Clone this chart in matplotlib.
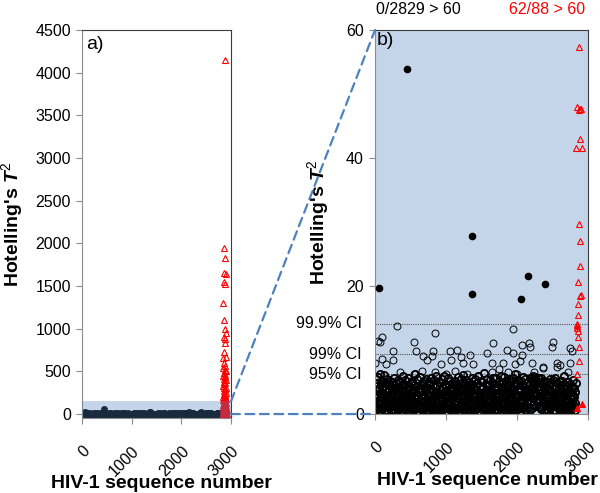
import numpy as np
import matplotlib.pyplot as plt
from matplotlib.patches import Rectangle, ConnectionPatch
from matplotlib.transforms import blended_transform_factory

plt.rcParams['font.family'] = 'Liberation Sans'
plt.rcParams['font.size'] = 11.5
plt.rcParams['mathtext.fontset'] = 'custom'
plt.rcParams['mathtext.rm'] = 'Liberation Sans'
plt.rcParams['mathtext.it'] = 'Liberation Sans:italic'
plt.rcParams['mathtext.bf'] = 'Liberation Sans:bold'
plt.rcParams['mathtext.bfit'] = 'Liberation Sans:italic:bold'

# --- data ---
# bulk of the 2829 reference sequences (every 5th sequence, T^2 values)
BAND = """
3.1 1.2 5.4 0.6 2.8 4.9 1.7 3.6 0.9 5.8 2.2 4.1 1.4 6.3 3.3 0.5 2.6 4.7 1.9 3.9
5.1 0.8 2.4 4.4 1.1 3.0 6.1 2.0 0.4 3.7 4.8 1.6 2.9 5.5 0.7 3.4 1.3 4.6 2.5 0.9
3.8 5.2 1.5 2.7 4.2 0.6 3.2 1.9 5.0 2.3 0.8 4.5 3.6 1.2 5.6 2.1 3.9 0.5 4.9 1.8
2.6 4.0 1.0 3.5 5.3 0.7 2.9 4.3 1.4 3.1 0.9 5.0 2.2 3.8 1.6 4.7 0.5 2.8 5.9 1.3
3.4 0.8 4.6 2.0 5.3 1.1 3.7 2.4 0.6 4.1 1.9 3.0 5.7 1.5 2.7 0.4 4.4 3.2 1.0 2.5
4.8 1.7 3.3 0.9 2.1 5.1 1.4 3.9 0.7 4.5 2.6 1.2 3.6 6.2 0.8 2.3 4.2 1.8 3.0 5.4
1.1 2.8 0.5 4.0 3.5 1.6 5.8 2.2 0.9 3.8 4.6 1.3 2.5 0.6 4.9 3.1 1.9 5.2 2.0 0.8
4.3 2.7 1.0 3.6 5.5 0.5 2.4 4.1 1.7 3.2 0.7 5.0 2.9 1.4 3.9 4.7 0.9 2.1 5.6 1.2
2.3 3.8 0.6 4.6 1.5 3.0 5.3 1.1 2.6 4.2 0.8 3.5 1.9 5.9 2.8 0.4 4.4 1.3 3.3 2.0
5.0 1.4 3.1 0.7 4.8 2.5 1.0 3.7 5.4 2.2 0.6 4.0 1.8 2.9 6.0 1.2 3.6 0.9 4.5 2.7
1.6 4.3 2.1 0.5 3.4 5.7 1.3 2.8 4.6 0.8 3.9 1.7 5.1 2.4 0.9 3.2 4.9 1.1 2.6 3.8
0.7 2.9 4.7 1.5 3.5 0.6 5.2 2.0 3.1 1.0 4.4 2.7 0.8 5.8 1.9 3.6 0.5 4.1 2.3 1.4
3.7 1.2 5.5 2.6 0.9 4.0 1.8 3.3 6.1 0.7 2.5 4.8 1.1 3.0 2.1 5.3 0.6 3.8 1.6 4.3
2.0 4.6 0.8 3.4 1.5 5.0 2.8 0.5 4.2 1.9 3.6 0.9 5.6 2.3 4.5 1.2 3.1 0.7 2.7 5.1
4.1 0.6 2.9 5.4 1.3 3.7 0.9 4.9 2.2 1.0 3.5 5.9 1.7 2.6 0.4 4.4 3.2 1.5 5.2 2.4
1.8 3.9 5.0 0.7 2.5 4.3 1.2 3.0 6.4 1.6 2.8 0.8 4.7 3.4 1.1 5.5 2.0 0.6 3.8 4.6
3.2 1.0 4.5 2.3 0.5 5.3 3.6 1.4 2.7 4.9 0.9 3.3 1.9 5.7 2.1 0.7 4.0 2.9 1.3 3.7
5.6 2.2 0.8 3.9 1.6 4.4 2.6 0.6 5.1 3.0 1.2 4.7 2.4 0.9 3.5 6.0 1.7 2.8 4.2 1.0
2.5 4.9 1.4 3.1 5.8 0.7 2.0 4.3 1.1 3.6 5.2 0.5 2.9 4.6 1.8 3.4 0.8 5.4 2.2 3.9
0.9 3.5 5.0 1.9 2.7 4.1 0.6 3.8 1.5 5.6 2.3 4.4 1.0 3.2 6.2 0.7 2.6 4.8 1.3 3.0
4.7 1.6 2.8 0.8 5.3 3.4 1.2 4.0 2.1 0.5 3.7 5.1 1.8 2.4 4.5 0.9 3.1 5.8 1.4 2.7
1.3 4.2 3.0 5.5 0.7 2.6 4.8 1.7 3.5 0.9 5.0 2.2 3.9 1.1 4.6 2.9 0.6 3.3 5.7 2.0
3.6 5.2 1.0 4.4 2.5 5.9 3.1 4.9 1.5 5.4 2.8 4.6 5.8 3.3 1.2 5.1 4.2 2.0 5.6 3.7
4.9 2.3 5.5 3.8 1.1 5.0 4.4 2.7 5.7 0.8 3.4 4.7 1.9 3.0 5.2 2.4 0.6 4.1 1.6 3.5
2.2 0.8 4.3 1.4 3.2 5.0 0.6 2.7 3.9 1.8 4.6 1.1 2.9 5.4 0.9 3.6 2.0 4.8 1.3 3.1
5.3 1.5 2.6 4.0 0.7 3.3 1.9 5.6 2.4 0.5 4.2 3.0 1.2 4.9 2.1 0.9 3.8 5.1 1.7 2.8
0.6 3.7 1.8 4.5 2.9 1.0 5.2 2.3 3.5 0.8 4.1 1.4 2.7 6.0 1.1 3.2 4.6 0.7 2.5 3.9
1.9 4.4 0.9 3.1 2.2 5.0 1.3 3.7 0.6 2.8 4.7 1.6 3.4 0.8 4.2 2.4 1.1 5.3 3.0 1.5
2.6 4.0 0.7 3.5 1.8 4.9
"""
band_t2 = np.array(BAND.split(), dtype=float)
band_seq = np.arange(0, 5 * len(band_t2), 5)

# reference sequences standing out above the bulk (open circles)
out_seq = [305, 845, 1948, 103, 47, 70, 549, 1658, 2066, 2173, 2502, 2183, 2497,
           249, 577, 681, 812, 1056, 1150, 1338, 1573, 1855, 1939, 2066, 2747, 2779,
           0, 94, 155, 258, 728, 799, 930, 1066, 1207, 1244, 1385, 1644, 1807, 1972,
           2042, 2207, 2371, 2559, 2606, 2747,
           352, 554, 658, 845, 996, 1127, 1292, 1455, 1644, 1751, 1878, 1996, 2240,
           2371, 2559, 2723]
out_t2 = [13.7, 12.6, 13.3, 12.0, 11.4, 11.2, 11.3, 11.1, 10.8, 11.1, 11.2, 10.4, 10.4,
          9.8, 9.8, 9.1, 9.9, 9.8, 10.0, 9.2, 9.5, 10.0, 9.5, 9.2, 10.3, 9.8,
          8.0, 8.6, 7.8, 8.4, 8.4, 9.1, 7.8, 8.4, 8.9, 8.0, 7.8, 7.9, 7.9, 7.8,
          8.3, 7.9, 7.3, 7.9, 7.7, 8.0,
          6.5, 6.2, 6.7, 6.5, 6.2, 6.8, 6.3, 6.0, 6.5, 7.0, 6.5, 6.2, 6.6,
          7.2, 7.4, 6.5]

# reference sequences above the 99.9% CI (filled dots)
sig_seq = [56, 451, 1366, 1366, 2056, 2150, 2394]
sig_t2 = [19.7, 53.9, 27.8, 18.75, 18.0, 21.5, 20.3]

# 88 test sequences: open triangles
red_seq = [2875, 2868, 2880, 2850, 2898, 2858, 2872, 2840, 2852, 2870, 2893, 2862,
           2885, 2877, 2866, 2848, 2890, 2856, 2882, 2842, 2874, 2895, 2860, 2887,
           2846, 2878, 2865, 2900, 2853, 2883, 2869, 2838, 2891, 2857, 2876, 2863,
           2896, 2849, 2881, 2871, 2844, 2888, 2859, 2903, 2867, 2836, 2879, 2854,
           2892, 2861, 2884, 2847, 2873, 2898, 2855, 2886, 2841, 2870, 2894, 2851,
           2880, 2864,
           2876, 2845, 2868, 2890, 2905, 2887, 2831, 2911, 2873, 2887, 2883, 2859,
           2891, 2900, 2864, 2855, 2850, 2843, 2864, 2866, 2869, 2875, 2850]
red_t2 = [4145, 1941, 1824, 1656, 1640, 1551, 1520, 1305, 1102, 996, 945, 899,
          875, 828, 730, 652, 672, 600, 560, 540, 520, 500, 480, 460,
          450, 430, 410, 400, 380, 360, 350, 330, 310, 300, 290, 270,
          250, 240, 220, 210, 200, 190, 180, 175, 170, 160, 150, 140,
          130, 125, 120, 110, 105, 100, 95, 90, 85, 80, 75, 72,
          68, 65,
          57.3, 47.9, 47.5, 47.7, 47.6, 43.0, 41.6, 41.6, 29.7, 27.1, 23.2, 20.7,
          18.4, 18.6, 17.2, 15.5, 14.0, 13.5, 12.9, 12.1, 10.4, 8.3, 6.3]
# test sequences drawn filled
redf_seq = [2845, 2845, 2915]
redf_t2 = [13.8, 0.9, 1.5]

ci_levels = [14.1, 9.35, 6.2]
ci_labels = ['99.9% CI', '99% CI', '95% CI']

BLUE = '#4f81bd'
SPINE_LIGHT = '#8c8c8c'
SPINE_DARK = '#3c3c3c'

fig = plt.figure(figsize=(6.0, 4.93), dpi=100)
ax_a = fig.add_axes([0.1367, 0.1515, 0.2483, 0.7876])
ax_b = fig.add_axes([0.625, 0.1602, 0.355, 0.7789])

black_seq = np.concatenate([band_seq, out_seq, sig_seq])
black_t2 = np.concatenate([band_t2, out_t2, sig_t2])

# ── Panel a: full range ──
ax_a.plot(black_seq, black_t2, 'o', ms=4.5, mfc='black', mec='black', mew=0.5,
          ls='none', zorder=2)
ax_a.plot(red_seq, red_t2, '^', ms=4.5, mfc='none', mec='red', mew=0.8,
          ls='none', zorder=3)
ax_a.plot(redf_seq, redf_t2, '^', ms=4.5, mfc='red', mec='red', mew=0.8,
          ls='none', zorder=3)
ax_a.add_patch(Rectangle((0, -50), 3000, 200, facecolor=BLUE, alpha=0.33,
                         edgecolor='none', zorder=4))
ax_a.set_xlim(0, 3000)
ax_a.set_ylim(-50, 4500)
ax_a.set_yticks(np.arange(0, 4501, 500))
ax_a.set_xticks([0, 1000, 2000, 3000])
ax_a.text(0.03, 0.985, 'a)', transform=ax_a.transAxes, ha='left', va='top',
          fontsize=14)

# ── Panel b: zoom 0-60 ──
ax_b.set_facecolor('#c5d5e9')
for lev in ci_levels:
    ax_b.axhline(lev, color='#555555', lw=0.8, ls=(0, (1, 1)), zorder=1)
ax_b.plot(band_seq, band_t2, 'o', ms=5.2, mfc='none', mec='black', mew=1.3,
          ls='none', zorder=2)
ax_b.plot(out_seq, out_t2, 'o', ms=5, mfc='none', mec='black', mew=0.7,
          ls='none', zorder=2)
ax_b.plot(sig_seq, sig_t2, 'o', ms=4.5, mfc='black', mec='black', ls='none',
          zorder=3)
ax_b.plot(red_seq, red_t2, '^', ms=4.5, mfc='none', mec='red', mew=0.8,
          ls='none', zorder=3)
ax_b.plot(redf_seq, redf_t2, '^', ms=4.5, mfc='red', mec='red', mew=0.8,
          ls='none', zorder=3)
ax_b.set_xlim(0, 3000)
ax_b.set_ylim(0, 60)
ax_b.set_yticks([0, 20, 40, 60])
ax_b.set_xticks([0, 1000, 2000, 3000])
ax_b.text(0.01, 0.995, 'b)', transform=ax_b.transAxes, ha='left', va='top',
          fontsize=14)
trans = blended_transform_factory(ax_b.transAxes, ax_b.transData)
for lev, lab in zip(ci_levels, ci_labels):
    ax_b.text(-0.061, lev, lab, transform=trans, ha='right', va='center',
              fontsize=11.5)

ylab = r"Hotelling's $\mathbfit{T}^{2}$"
for ax, xl, yl_x, xl_xy in [(ax_a, 'HIV-1 sequence number', -0.385, (0.53, -0.146)),
                            (ax_b, 'HIV-1 sequence number', -0.205, (0.526, -0.150))]:
    for side in ['left', 'bottom']:
        ax.spines[side].set_color(SPINE_LIGHT)
    for side in ['top', 'right']:
        ax.spines[side].set_color(SPINE_DARK)
    ax.tick_params(axis='both', direction='out', length=4, width=0.8,
                   color=SPINE_LIGHT, labelsize=11.5)
    ax.tick_params(axis='y', pad=4)
    ax.tick_params(axis='x', pad=14)
    for lbl in ax.get_xticklabels():
        lbl.set_rotation(45)
        lbl.set_ha('right')
        lbl.set_va('top')
        lbl.set_rotation_mode('anchor')
    ax.set_ylabel(ylab, fontsize=14, fontweight='bold')
    ax.yaxis.set_label_coords(yl_x, 0.5)
    ax.set_xlabel(xl, fontsize=14, fontweight='bold')
    ax.xaxis.set_label_coords(*xl_xy)

# dashed zoom connectors
for ya, yb in [(150, 60), (0, 0)]:
    con = ConnectionPatch(xyA=(3000, ya), coordsA=ax_a.transData,
                          xyB=(0, yb), coordsB=ax_b.transData,
                          color=BLUE, lw=1.6, ls=(0, (4, 2.5)), zorder=10)
    fig.add_artist(con)

fig.text(418 / 600, 1 - 10 / 493, '0/2829 > 60', ha='center', va='center',
         fontsize=11.5)
fig.text(547 / 600, 1 - 10 / 493, '62/88 > 60', ha='center', va='center',
         fontsize=11.5, color='red')

fig.savefig('out.png', dpi=100, facecolor='white')
